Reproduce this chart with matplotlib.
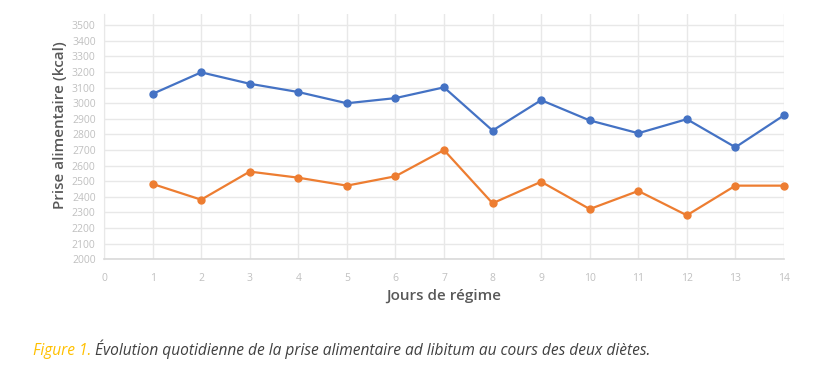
import matplotlib.pyplot as plt

# Daily ad libitum intake
days = list(range(1, 15))
diet_a = [3060, 3198, 3125, 3072, 3000, 3033, 3102, 2825, 3020, 2890, 2808, 2898, 2718, 2923]
diet_b = [2483, 2382, 2562, 2523, 2472, 2532, 2700, 2359, 2497, 2322, 2438, 2282, 2472, 2472]
y_ticks = list(range(2000, 3600, 100))
x_ticks = list(range(0, 15))

plt.rcParams['font.family'] = ['Open Sans', 'DejaVu Sans']

fig = plt.figure(figsize=(8.16, 3.71), dpi=100)
ax = fig.add_axes([104 / 816, 111.7 / 371, 680 / 816, 245.3 / 371])

ax.plot(days, diet_a, color='#4472c4', lw=1.6, marker='o', ms=5, zorder=3, clip_on=False)
ax.plot(days, diet_b, color='#ed7d31', lw=1.6, marker='o', ms=5, zorder=3, clip_on=False)

ax.set_xlim(0, 14)
ax.set_ylim(2000, 3572)
ax.set_xticks(x_ticks)
ax.set_yticks(y_ticks)
ax.grid(True, color='#e8e8e8', lw=1)
ax.set_axisbelow(True)
ax.tick_params(length=0, labelsize=7.5, labelcolor='#c0c0c0')
ax.tick_params(axis='x', pad=10)
ax.tick_params(axis='y', pad=6)
for s in ['top', 'right']:
    ax.spines[s].set_visible(False)
ax.spines['left'].set_color('#e8e8e8')
ax.spines['bottom'].set_color('#d9d9d9')
ax.spines['bottom'].set_linewidth(1.2)

fig.text(60 / 816, 1 - 125 / 371, 'Prise alimentaire (kcal)', rotation=90, ha='center', va='center',
         fontsize=11, color='#595959', fontweight='semibold')
fig.text(444 / 816, 1 - 296 / 371, 'Jours de régime', ha='center', va='center',
         fontsize=11, color='#595959', fontweight='semibold')

t1 = fig.text(33 / 816, 1 - 351 / 371, 'Figure 1.', ha='left', va='center',
              fontsize=11.2, style='italic', color='#ffc000')
ax.annotate(' Évolution quotidienne de la prise alimentaire ad libitum au cours des deux diètes.',
            xy=(1, 0), xycoords=t1, ha='left', va='bottom',
            fontsize=11.2, style='italic', color='#404040', annotation_clip=False)

fig.savefig('out.png', dpi=100)
